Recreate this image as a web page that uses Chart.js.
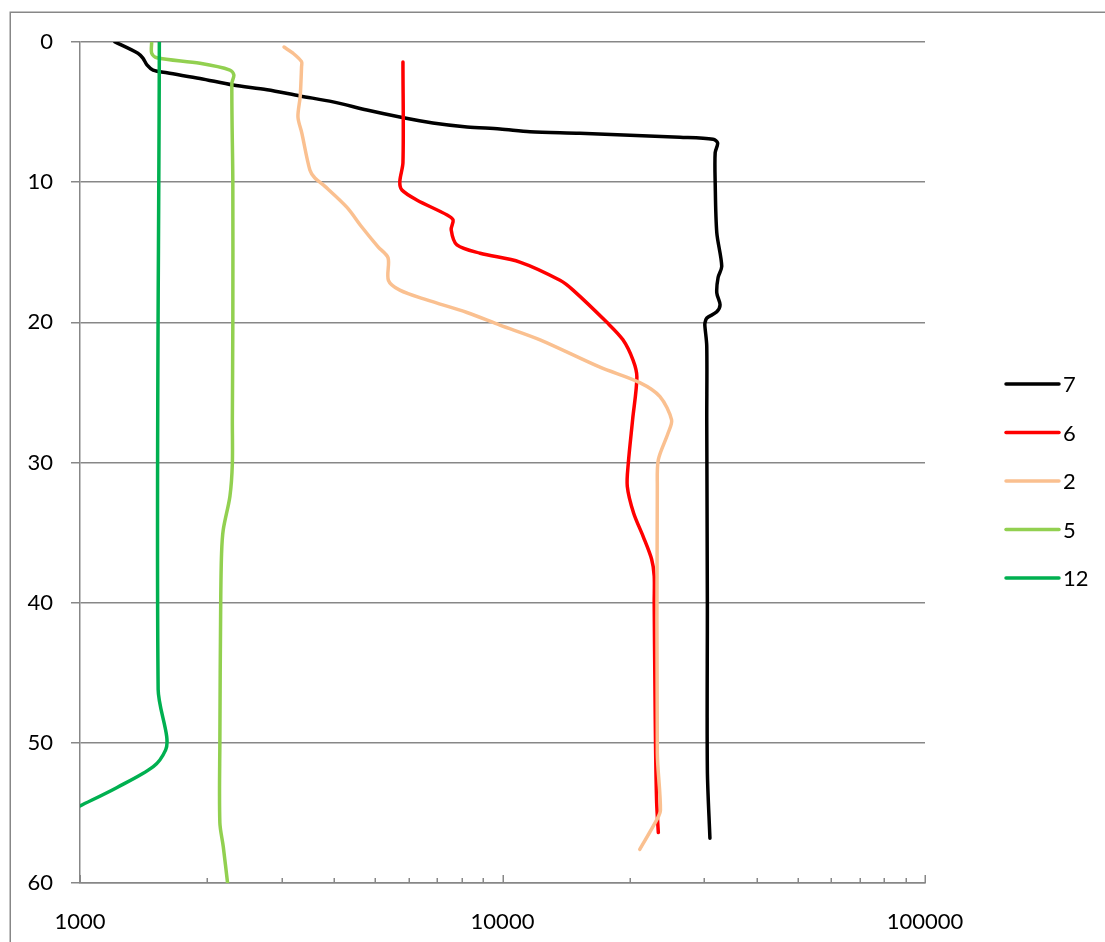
<!DOCTYPE html>
<html>
<head>
<meta charset="utf-8">
<title>Depth profiles</title>
<script src="https://cdn.jsdelivr.net/npm/chart.js@4.4.1/dist/chart.umd.min.js"></script>
<style>
  html, body { margin: 0; padding: 0; background: #ffffff; overflow: hidden; }
  canvas { display: block; }
</style>
</head>
<body>
<canvas id="profiles" width="1105" height="942"></canvas>
<script>
// Series labels and colours, in legend order
const seriesNames  = ['7', '6', '2', '5', '12'];
const seriesColors = ['#000000', '#ff0000', '#fac090', '#92d050', '#00b050'];

// Profile 7: depth and value
const depth7 = [0, 0.8, 1.15, 1.65, 2.0, 2.2, 2.6, 3.07, 3.4, 3.85, 4.27, 4.85, 5.35, 5.78, 6.06, 6.2, 6.4, 6.51, 6.8, 6.94,
                7.2, 7.9, 10, 13.6, 16, 16.8, 17.9, 18.75, 19.25, 19.7, 20.05, 20.3, 21.7, 27, 40, 51.9, 56.8];
const value7 = [1210, 1371, 1409, 1442, 1489, 1606, 1923, 2302, 2772, 3320, 3972, 4777, 5714, 6842, 8241, 9863, 11620, 15240, 26300, 31500,
                32300, 31870, 31870, 32150, 33030, 32380, 32150, 32730, 32150, 30440, 30140, 30140, 30440, 30440, 30540, 30540, 30970];

// Profile 6
const depth6 = [1.43, 8.6, 9.96, 10.56, 11.27, 12.34, 12.7, 13.4, 14.48, 15.07, 15.7, 17.0, 17.7, 20.0, 21.25, 22.7, 23.9,
                26.96, 30.05, 31.7, 33.6, 35.3, 36.9, 38.1, 40, 46, 50.7, 54.3, 56.4];
const value6 = [5813, 5813, 5714, 5780, 6267, 7396, 7640, 7560, 7800, 8850, 10990, 13680, 14690, 17660, 19280, 20370, 20800,
                20320, 19850, 19740, 20430, 21540, 22540, 22860, 22860, 22950, 23040, 23170, 23380];

// Profile 2
const depth2 = [0.36, 0.8, 1.4, 1.76, 3.9, 5.35, 6.5, 9.13, 9.7, 10.3, 11.8, 13.2, 14.6, 15.4, 17.0, 17.7, 18.4, 19.3, 20.2,
                21.25, 23.2, 24.3, 25.3, 26.96, 27.9, 29.8, 31.7, 50.7, 54.8, 55.5, 57.6];
const value2 = [3040, 3192, 3345, 3345, 3320, 3280, 3350, 3500, 3597, 3800, 4285, 4645, 5070, 5360, 5370, 5714, 6620, 8240, 9860,
                12270, 17010, 21130, 23590, 25130, 24660, 23380, 23250, 23250, 23650, 23170, 21130];

// Profile 5
const depth5 = [0, 0.8, 1.12, 1.52, 2.0, 2.35, 2.95, 10, 20, 26.96, 30.05, 32.4, 34.8, 36.5, 40, 50, 55.7, 57.4, 60];
const value5 = [1478, 1478, 1519, 1923, 2264, 2313, 2288, 2300, 2300, 2294, 2294, 2264, 2183, 2163, 2153, 2143, 2143, 2183, 2235];

// Profile 12
const depth12 = [0, 46.2, 49.55, 50.5, 51.7, 53.2, 54.5];
const value12 = [1541, 1531, 1604, 1595, 1491, 1221, 1000];

// Axis ticks
const xTickValues  = [1000, 2000, 3000, 4000, 5000, 6000, 7000, 8000, 9000,
                      10000, 20000, 30000, 40000, 50000, 60000, 70000, 80000, 90000, 100000];
const xTickLabels  = [1000, 10000, 100000];
const yTickValues  = [0, 10, 20, 30, 40, 50, 60];

const seriesDepths = [depth7, depth6, depth2, depth5, depth12];
const seriesValues = [value7, value6, value2, value5, value12];

const gridColor = '#878787';
const fontFamily = 'Lato, "Noto Sans", sans-serif';

// White page with the outer chart frame
const framePlugin = {
  id: 'frame',
  beforeDraw(chart) {
    const ctx = chart.ctx;
    ctx.save();
    ctx.fillStyle = '#ffffff';
    ctx.fillRect(0, 0, chart.width, chart.height);
    ctx.strokeStyle = gridColor;
    ctx.lineWidth = 1.5;
    ctx.strokeRect(10.25, 12.25, chart.width + 40, chart.height + 40);
    ctx.restore();
  }
};

// Tick marks on the log axis, pointing into the plot
const innerTicksPlugin = {
  id: 'innerTicks',
  afterDatasetsDraw(chart) {
    const ctx = chart.ctx;
    const xs = chart.scales.x;
    const bottom = chart.chartArea.bottom;
    ctx.save();
    ctx.strokeStyle = gridColor;
    ctx.lineWidth = 1.5;
    xs.ticks.forEach(t => {
      const major = xTickLabels.includes(t.value);
      const px = Math.round(xs.getPixelForValue(t.value)) + 0.25;
      const len = major ? 8 : 5;
      ctx.beginPath();
      ctx.moveTo(px, bottom);
      ctx.lineTo(px, bottom - len);
      ctx.stroke();
    });
    ctx.restore();
  }
};

// Series key at the right
const keyPlugin = {
  id: 'seriesKey',
  afterDraw(chart) {
    const ctx = chart.ctx;
    const area = chart.chartArea;
    const x0 = area.right + 81;
    const x1 = x0 + 53;
    const y0 = 384;
    const step = 48.5;
    ctx.save();
    ctx.font = '22px ' + fontFamily;
    ctx.textBaseline = 'middle';
    ctx.textAlign = 'left';
    chart.data.datasets.forEach((ds, i) => {
      const y = y0 + i * step;
      ctx.strokeStyle = ds.borderColor;
      ctx.lineWidth = 3.5;
      ctx.lineCap = 'round';
      ctx.beginPath();
      ctx.moveTo(x0, y);
      ctx.lineTo(x1, y);
      ctx.stroke();
      ctx.fillStyle = '#000000';
      ctx.fillText(ds.label, x1 + 4, y + 1);
    });
    ctx.restore();
  }
};

const datasets = seriesNames.map((name, i) => ({
  label: name,
  data: seriesDepths[i].map((d, k) => ({ x: seriesValues[i][k], y: d })),
  borderColor: seriesColors[i],
  backgroundColor: seriesColors[i],
  borderWidth: 3.5,
  borderCapStyle: 'round',
  borderJoinStyle: 'round',
  pointRadius: 0,
  pointHoverRadius: 0,
  showLine: true,
  fill: false,
  tension: 0.3,
  order: seriesNames.length - i
}));

new Chart(document.getElementById('profiles'), {
  type: 'scatter',
  data: { datasets },
  plugins: [framePlugin, innerTicksPlugin, keyPlugin],
  options: {
    responsive: false,
    animation: false,
    devicePixelRatio: 1,
    layout: { padding: { top: 42, right: 180, bottom: 0, left: 0 } },
    plugins: {
      legend: { display: false },
      tooltip: { enabled: false }
    },
    scales: {
      x: {
        type: 'logarithmic',
        position: 'bottom',
        min: 1000,
        max: 100000,
        afterBuildTicks: scale => {
          scale.ticks = xTickValues.map(v => ({ value: v }));
        },
        afterFit: scale => { scale.height = 59; },
        grid: { display: false, drawTicks: false },
        border: { display: true, color: gridColor, width: 1.5 },
        ticks: {
          autoSkip: false,
          maxRotation: 0,
          minRotation: 0,
          padding: 26,
          color: '#000000',
          font: { family: fontFamily, size: 22 },
          callback: v => xTickLabels.includes(v) ? String(v) : ''
        }
      },
      y: {
        type: 'linear',
        position: 'left',
        reverse: true,
        min: 0,
        max: 60,
        afterBuildTicks: scale => {
          scale.ticks = yTickValues.map(v => ({ value: v }));
        },
        afterFit: scale => { scale.width = 80; },
        grid: {
          color: gridColor,
          lineWidth: 1.5,
          drawTicks: true,
          tickLength: 9,
          tickColor: gridColor
        },
        border: { display: true, color: gridColor, width: 1.5 },
        ticks: {
          padding: 18,
          color: '#000000',
          font: { family: fontFamily, size: 22 }
        }
      }
    }
  }
});
</script>
</body>
</html>
